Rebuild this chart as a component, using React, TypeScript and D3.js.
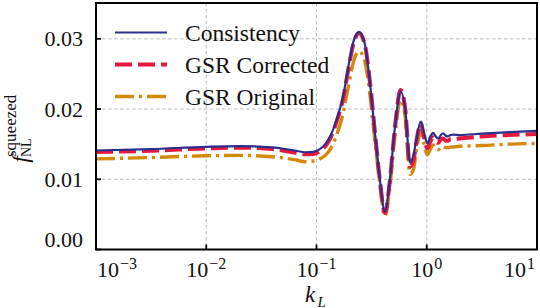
import React from "react";
import * as d3 from "d3";

const logK = [-3.0, -2.5, -2.0, -1.7, -1.4, -1.2, -1.1, -1.03, -0.97, -0.92, -0.87, -0.82, -0.76, -0.71, -0.665, -0.615, -0.565, -0.515, -0.47, -0.425, -0.38, -0.335, -0.29, -0.237, -0.195, -0.152, -0.12, -0.09, -0.055, -0.025, 0.005, 0.03, 0.058, 0.082, 0.105, 0.128, 0.15, 0.172, 0.193, 0.215, 0.238, 0.3, 0.5, 0.75, 1.0];

const consistency = [0.0141, 0.0143, 0.01462, 0.01472, 0.01455, 0.0141, 0.01385, 0.0139, 0.0143, 0.015, 0.0163, 0.0184, 0.0217, 0.0261, 0.0296, 0.031, 0.0295, 0.0237, 0.0166, 0.0099, 0.0054, 0.0099, 0.0172, 0.0225, 0.0199, 0.0124, 0.0135, 0.016, 0.0182, 0.0166, 0.0151, 0.016, 0.0166, 0.0161, 0.0158, 0.0163, 0.01655, 0.0162, 0.0161, 0.0163, 0.01635, 0.0163, 0.0165, 0.0167, 0.0169];

const gsrCorrected = [0.0139, 0.01405, 0.0144, 0.0145, 0.0143, 0.0138, 0.01355, 0.0136, 0.014, 0.0147, 0.016, 0.0181, 0.0214, 0.0258, 0.0293, 0.0308, 0.0294, 0.0238, 0.0167, 0.0099, 0.0052, 0.0097, 0.0172, 0.0227, 0.02, 0.0118, 0.0127, 0.0158, 0.018, 0.016, 0.0144, 0.0153, 0.016, 0.0154, 0.0152, 0.0157, 0.0158, 0.0155, 0.0155, 0.0157, 0.0157, 0.0158, 0.0161, 0.0163, 0.01645];

const gsrOriginal = [0.0129, 0.0131, 0.01335, 0.0134, 0.0132, 0.0128, 0.0125, 0.0126, 0.0129, 0.0134, 0.0144, 0.0162, 0.0193, 0.0233, 0.0267, 0.0282, 0.027, 0.022, 0.0155, 0.0092, 0.0047, 0.0088, 0.016, 0.0213, 0.0188, 0.0107, 0.0114, 0.0145, 0.0168, 0.015, 0.0135, 0.0142, 0.0149, 0.0143, 0.0142, 0.0146, 0.0147, 0.0145, 0.0145, 0.0146, 0.0146, 0.0147, 0.0148, 0.015, 0.0151];

const xTickExps = [-3, -2, -1, 0, 1];
const yTicks = [0.0, 0.01, 0.02, 0.03];
const yTickLabels = ["0.00", "0.01", "0.02", "0.03"];
const seriesNames = ["Consistency", "GSR Corrected", "GSR Original"];

const FONT = "Liberation Serif, DejaVu Serif, serif";

export default function App() {
  const W = 540, H = 308;
  const L = 96, R = 537, T = 3, B = 249.5;
  const x = d3.scaleLog().domain([1e-3, 1e1]).range([L, R]);
  const y = d3.scaleLinear().domain([0, 0.0351]).range([B, T]);

  const styles = [
    { color: "#2b2f8c", width: 2.2, dash: "" },
    { color: "#e8173d", width: 4, dash: "17,6" },
    { color: "#d4890a", width: 3.4, dash: "19,5,3,5" },
  ];
  const data = [consistency, gsrCorrected, gsrOriginal];
  const line = d3
    .line<[number, number]>()
    .x((d) => x(Math.pow(10, d[0])))
    .y((d) => y(d[1]))
    .curve(d3.curveMonotoneX);

  const drawOrder = [2, 1, 0];
  const tf = { fontFamily: FONT };

  return (
    <svg width={W} height={H} style={{ display: "block", position: "absolute", left: 0, top: 0, fontFamily: FONT }}>
      <defs>
        <clipPath id="plotclip">
          <rect x={L} y={T} width={R - L} height={B - T} />
        </clipPath>
      </defs>
      <rect x={0} y={0} width={W} height={H} fill="white" />
      {xTickExps.map((e) => (
        <line key={"gx" + e} x1={x(Math.pow(10, e))} x2={x(Math.pow(10, e))} y1={T} y2={B} stroke="#b5b5b5" strokeWidth={0.9} strokeDasharray="3.5,2.5" />
      ))}
      {yTicks.map((v) => (
        <line key={"gy" + v} x1={L} x2={R} y1={y(v)} y2={y(v)} stroke="#b5b5b5" strokeWidth={0.9} strokeDasharray="3.5,2.5" />
      ))}
      <g clipPath="url(#plotclip)">
        {drawOrder.map((i) => (
          <path
            key={"s" + i}
            d={line(logK.map((l, j) => [l, data[i][j]] as [number, number])) || ""}
            fill="none"
            stroke={styles[i].color}
            strokeWidth={styles[i].width}
            strokeDasharray={styles[i].dash || undefined}
            strokeLinejoin="round"
          />
        ))}
      </g>
      {xTickExps.map((e) => (
        <line key={"tx" + e} x1={x(Math.pow(10, e))} x2={x(Math.pow(10, e))} y1={B} y2={B - 5} stroke="black" strokeWidth={1.8} />
      ))}
      {yTicks.map((v) => (
        <line key={"ty" + v} x1={L} x2={L + 5} y1={y(v)} y2={y(v)} stroke="black" strokeWidth={1.8} />
      ))}
      <rect x={L} y={T} width={R - L} height={B - T} fill="none" stroke="black" strokeWidth={2} />
      {yTicks.map((v, i) => (
        <text key={"yl" + v} style={tf} x={83} y={Math.min(y(v) + 7.5, 246.5)} textAnchor="end" fontSize={22} fill="#111">
          {yTickLabels[i]}
        </text>
      ))}
      {xTickExps.map((e, i) => {
        const px = x(Math.pow(10, e));
        const anchor = i === 0 ? "start" : i === xTickExps.length - 1 ? "end" : "middle";
        const ax = i === 0 ? px + 1 : i === xTickExps.length - 1 ? px - 2 : px;
        return (
          <text key={"xl" + e} style={tf} x={ax} y={277} textAnchor={anchor} fontSize={22} fill="#111">
            10
            <tspan dx={1} dy={-8} fontSize={16}>{e < 0 ? "\u2212" + Math.abs(e) : String(e)}</tspan>
          </text>
        );
      })}
      <text style={tf} x={305} y={302} fontSize={23} fontStyle="italic" fill="#111">k</text>
      <text style={tf} x={317.5} y={306.5} fontSize={15} fontStyle="italic" fill="#111">L</text>
      <g transform="rotate(-90)">
        <text style={tf} x={-156} y={28} textAnchor="end" fontSize={24} fontStyle="italic" fill="#111">f</text>
        <text style={tf} x={-157} y={31} fontSize={14} fill="#111">NL</text>
        <text style={tf} x={-157} y={16} fontSize={17} fill="#111">squeezed</text>
      </g>
      {seriesNames.map((name, i) => {
        const ly = 32.5 + i * 32;
        return (
          <g key={"lg" + i}>
            <line x1={115} x2={167} y1={ly} y2={ly} stroke={styles[i].color} strokeWidth={styles[i].width} strokeDasharray={styles[i].dash || undefined} />
            <text style={tf} x={185} y={ly + 8} fontSize={23.5} fill="#111">{name}</text>
          </g>
        );
      })}
    </svg>
  );
}
